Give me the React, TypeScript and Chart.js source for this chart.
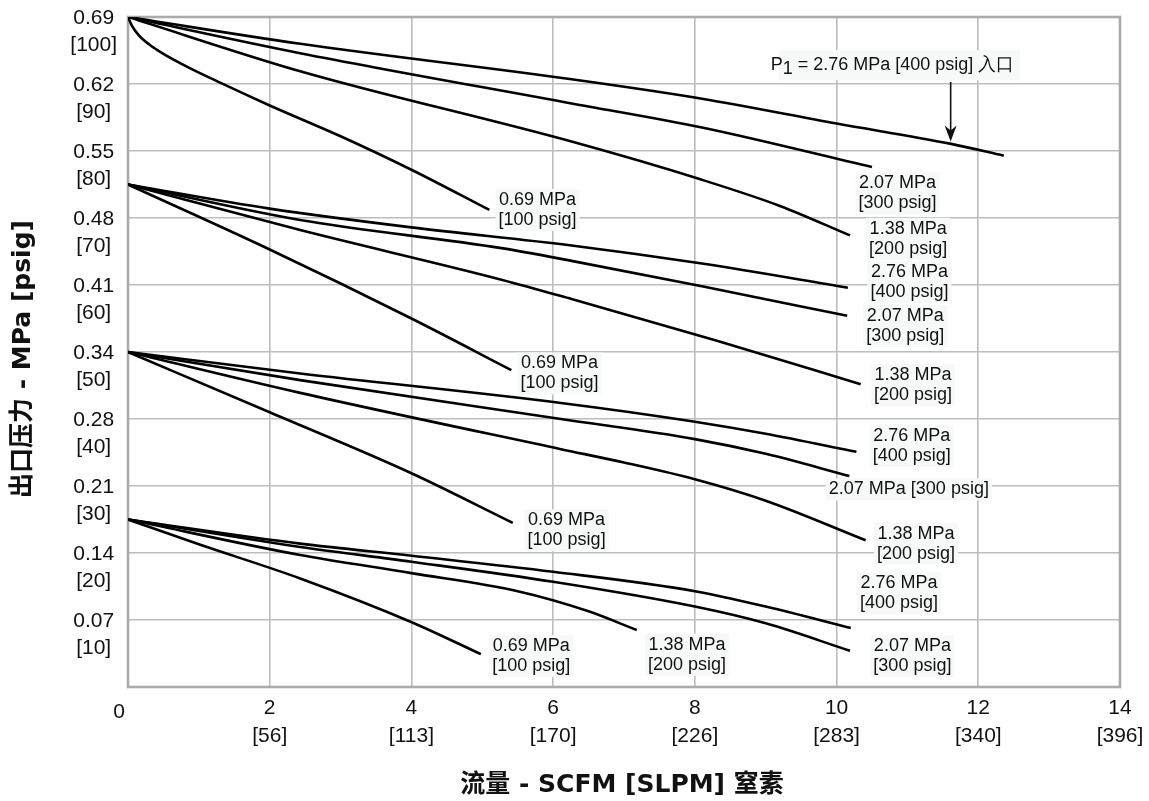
import React, { useEffect, useRef } from "react";
import { Chart, registerables } from "chart.js";

Chart.register(...registerables);

// ---- axis ticks ----
const xTicksSCFM = [0, 2, 4, 6, 8, 10, 12, 14];
const xTicksSLPM = ["", "[56]", "[113]", "[170]", "[226]", "[283]", "[340]", "[396]"];
const yTicksPsig = [0, 10, 20, 30, 40, 50, 60, 70, 80, 90, 100];
const yTicksMPa = ["", "0.07", "0.14", "0.21", "0.28", "0.34", "0.41", "0.48", "0.55", "0.62", "0.69"];

// ---- curves: flow (SCFM) vs outlet pressure (psig) ----
// outlet set 100 psig
const g100_in400_x = [0, 2.43, 6.26, 8.1, 10, 11.6, 12.36];
const g100_in400_y = [100, 96.0, 90.7, 87.8, 84.1, 81.1, 79.3];
const g100_in300_x = [0, 2.43, 6.26, 8.1, 10.5];
const g100_in300_y = [100, 94.6, 87.1, 83.5, 77.6];
const g100_in200_x = [0, 2.43, 6.26, 8.1, 9.2, 10.19];
const g100_in200_y = [100, 91.9, 81.4, 75.7, 71.8, 67.4];
const g100_in100_x = [0, 0.05, 0.15, 0.3, 0.5, 0.83, 1.3, 2.0, 3.0, 4.0, 5.1];
const g100_in100_y = [100, 98.8, 97.3, 95.9, 94.5, 92.6, 90.2, 86.8, 82.2, 77.2, 71.2];
// outlet set 75 psig
const g75_in400_x = [0, 2, 4, 6.26, 8.1, 10.16];
const g75_in400_y = [75, 71.4, 68.6, 65.9, 63.2, 59.6];
const g75_in300_x = [0, 2.43, 5.27, 6.26, 8.1, 10.15];
const g75_in300_y = [75, 69.7, 65.5, 63.6, 59.8, 55.4];
const g75_in200_x = [0, 2.43, 5.27, 6.26, 8.3, 10.34];
const g75_in200_y = [75, 68.2, 60.8, 57.9, 51.7, 45.2];
const g75_in100_x = [0, 2, 4, 5.41];
const g75_in100_y = [75, 65.3, 55.0, 47.3];
// outlet set 50 psig
const g50_in400_x = [0, 2.43, 6.11, 8, 9, 10.28];
const g50_in400_y = [50, 46.8, 42.4, 39.6, 37.8, 35.1];
const g50_in300_x = [0, 2.43, 6.11, 8, 9, 10.18];
const g50_in300_y = [50, 45.8, 40.0, 37.0, 34.8, 31.5];
const g50_in200_x = [0, 2.43, 6.11, 7, 8, 9, 10.41];
const g50_in200_y = [50, 43.9, 35.5, 33.5, 31.0, 27.8, 21.9];
const g50_in100_x = [0, 2, 4, 5.43];
const g50_in100_y = [50, 41.0, 31.9, 24.5];
// outlet set 25 psig
const g25_in400_x = [0, 2.43, 4, 6, 8, 9, 10.2];
const g25_in400_y = [25, 21.4, 19.6, 17.2, 14.3, 12.0, 8.8];
const g25_in300_x = [0, 2.43, 4, 6, 8, 9, 10.19];
const g25_in300_y = [25, 20.9, 18.7, 15.7, 12.0, 9.5, 5.4];
const g25_in200_x = [0, 2.43, 4, 5.5, 6.5, 7.18];
const g25_in200_y = [25, 19.7, 17.0, 14.3, 11.3, 8.5];
const g25_in100_x = [0, 1, 2.43, 4.02, 4.98];
const g25_in100_y = [25, 21.3, 16.2, 9.6, 4.9];

const seriesX = [
  g100_in400_x, g100_in300_x, g100_in200_x, g100_in100_x,
  g75_in400_x, g75_in300_x, g75_in200_x, g75_in100_x,
  g50_in400_x, g50_in300_x, g50_in200_x, g50_in100_x,
  g25_in400_x, g25_in300_x, g25_in200_x, g25_in100_x,
];
const seriesY = [
  g100_in400_y, g100_in300_y, g100_in200_y, g100_in100_y,
  g75_in400_y, g75_in300_y, g75_in200_y, g75_in100_y,
  g50_in400_y, g50_in300_y, g50_in200_y, g50_in100_y,
  g25_in400_y, g25_in300_y, g25_in200_y, g25_in100_y,
];

// ---- curve labels (text) ----
const labelLines = [
  ["2.07 MPa", "[300 psig]"],
  ["1.38 MPa", "[200 psig]"],
  ["0.69 MPa", "[100 psig]"],
  ["2.76 MPa", "[400 psig]"],
  ["2.07 MPa", "[300 psig]"],
  ["1.38 MPa", "[200 psig]"],
  ["0.69 MPa", "[100 psig]"],
  ["2.76 MPa", "[400 psig]"],
  ["2.07 MPa [300 psig]"],
  ["1.38 MPa", "[200 psig]"],
  ["0.69 MPa", "[100 psig]"],
  ["2.76 MPa", "[400 psig]"],
  ["2.07 MPa", "[300 psig]"],
  ["1.38 MPa", "[200 psig]"],
  ["0.69 MPa", "[100 psig]"],
];
// anchor (in axis units) of each label block centre
const labelAnchorX = [10.86, 11.01, 5.78, 11.03, 10.97, 11.08, 6.09, 11.06, 11.02, 11.12, 6.19, 10.88, 11.07, 7.89, 5.69];
const labelAnchorY = [73.7, 66.9, 71.2, 60.4, 53.9, 45.1, 46.8, 36.0, 29.5, 21.4, 23.4, 14.0, 4.6, 4.8, 4.6];

const inletTitleMain = "P";
const inletTitleSub = "1";
const inletTitleRest = " = 2.76 MPa [400 psig] 入口";
const inletTitleAnchor = [10.79, 92.8];
const inletArrowX = 11.61;
const inletArrowFrom = 90.3;
const inletArrowTo = 81.4;

const xTitle = "流量 - SCFM [SLPM] 窒素";
const yTitle = "出口压力 - MPa [psig]";

const TEXT_FONT = '"Liberation Sans", Arial, sans-serif';
const TITLE_FONT = '"DejaVu Sans", "Noto Sans CJK SC", sans-serif';

const overlayPlugin = {
  id: "overlay",
  beforeDatasetsDraw(chart: any) {
    const { ctx, chartArea } = chart;
    ctx.save();
    ctx.strokeStyle = "#ababab";
    ctx.lineWidth = 2.6;
    ctx.strokeRect(chartArea.left, chartArea.top, chartArea.right - chartArea.left, chartArea.bottom - chartArea.top);
    ctx.restore();
  },
  afterDatasetsDraw(chart: any) {
    const { ctx } = chart;
    const xs = chart.scales.x;
    const ys = chart.scales.y;
    ctx.save();
    ctx.font = `18px ${TEXT_FONT}`;
    ctx.textBaseline = "middle";
    ctx.textAlign = "center";
    const gap = 20;
    labelLines.forEach((lines, i) => {
      const cx = xs.getPixelForValue(labelAnchorX[i]);
      const cy = ys.getPixelForValue(labelAnchorY[i]);
      const w = Math.max(...lines.map((l) => ctx.measureText(l).width));
      const h = lines.length * gap;
      ctx.fillStyle = "#f7f9f9";
      ctx.fillRect(cx - w / 2 - 3, cy - h / 2 - 1, w + 6, h + 2);
      ctx.fillStyle = "#111";
      lines.forEach((l, j) => {
        ctx.fillText(l, cx, cy - h / 2 + gap / 2 + j * gap);
      });
    });

    // inlet title with subscript
    const tcx = xs.getPixelForValue(inletTitleAnchor[0]);
    const tcy = ys.getPixelForValue(inletTitleAnchor[1]);
    const wP = ctx.measureText(inletTitleMain).width;
    const wS = ctx.measureText(inletTitleSub).width;
    const wR = ctx.measureText(inletTitleRest).width;
    const total = wP + wS + wR;
    let sx = tcx - total / 2;
    ctx.fillStyle = "#f7f9f9";
    ctx.fillRect(sx + 8, tcy - 15, total - 2, 30);
    ctx.fillStyle = "#111";
    ctx.textAlign = "left";
    ctx.fillText(inletTitleMain, sx, tcy);
    ctx.fillText(inletTitleSub, sx + wP, tcy + 4);
    ctx.fillText(inletTitleRest, sx + wP + wS, tcy);

    // arrow
    const ax = xs.getPixelForValue(inletArrowX);
    const ay0 = ys.getPixelForValue(inletArrowFrom);
    const ay1 = ys.getPixelForValue(inletArrowTo);
    ctx.strokeStyle = "#111";
    ctx.lineWidth = 1.6;
    ctx.beginPath();
    ctx.moveTo(ax, ay0);
    ctx.lineTo(ax, ay1 - 6);
    ctx.stroke();
    ctx.fillStyle = "#111";
    ctx.beginPath();
    ctx.moveTo(ax, ay1);
    ctx.lineTo(ax - 6, ay1 - 16);
    ctx.lineTo(ax, ay1 - 11);
    ctx.lineTo(ax + 6, ay1 - 16);
    ctx.closePath();
    ctx.fill();
    ctx.restore();
  },
  afterDraw(chart: any) {
    const { ctx, chartArea } = chart;
    const xs = chart.scales.x;
    ctx.save();
    ctx.fillStyle = "#111";
    // origin label
    ctx.font = `21px ${TEXT_FONT}`;
    ctx.textAlign = "center";
    ctx.textBaseline = "middle";
    ctx.fillText(String(xTicksSCFM[0]), xs.getPixelForValue(xTicksSCFM[0]) - 9, chartArea.bottom + 25);
    // axis titles
    ctx.font = `bold 25px ${TITLE_FONT}`;
    ctx.fillText(xTitle, (chartArea.left + chartArea.right) / 2 - 2, chartArea.bottom + 98);
    ctx.translate(23, (chartArea.top + chartArea.bottom) / 2 + 7);
    ctx.rotate(-Math.PI / 2);
    ctx.fillText(yTitle, 0, 0);
    ctx.restore();
  },
};

export default function App() {
  const canvasRef = useRef<HTMLCanvasElement | null>(null);

  useEffect(() => {
    if (!canvasRef.current) return;
    const datasets = seriesX.map((xsArr, i) => ({
      data: xsArr.map((x, j) => ({ x, y: seriesY[i][j] })),
      borderColor: "#000",
      borderWidth: 2.6,
      pointRadius: 0,
      fill: false,
      cubicInterpolationMode: "monotone" as const,
    }));

    const chart = new Chart(canvasRef.current, {
      type: "line",
      data: { datasets },
      plugins: [overlayPlugin],
      options: {
        animation: false,
        responsive: true,
        maintainAspectRatio: false,
        layout: { padding: { left: 0, right: 29, top: 17, bottom: 0 } },
        plugins: { legend: { display: false }, tooltip: { enabled: false } },
        scales: {
          x: {
            type: "linear",
            min: 0,
            max: 14,
            afterBuildTicks: (s: any) => {
              s.ticks = xTicksSCFM.map((v) => ({ value: v }));
            },
            afterFit: (s: any) => {
              s.height = 114;
              s.paddingLeft = 0;
              s.paddingRight = 0;
            },
            ticks: {
              autoSkip: false,
              maxRotation: 0,
              padding: 8,
              color: "#111",
              font: { family: TEXT_FONT, size: 21, lineHeight: 1.3 },
              callback: (v: any) => {
                const i = xTicksSCFM.indexOf(Number(v));
                if (i <= 0) return "";
                return [String(xTicksSCFM[i]), xTicksSLPM[i]];
              },
            },
            grid: { color: "#bdbdbd", lineWidth: 1.6, drawTicks: false },
            border: { display: false },
          },
          y: {
            type: "linear",
            min: 0,
            max: 100,
            afterBuildTicks: (s: any) => {
              s.ticks = yTicksPsig.map((v) => ({ value: v }));
            },
            afterFit: (s: any) => {
              s.width = 128;
              s.paddingTop = 0;
              s.paddingBottom = 0;
            },
            ticks: {
              autoSkip: false,
              padding: 11,
              crossAlign: "center",
              labelOffset: 15,
              color: "#111",
              font: { family: TEXT_FONT, size: 21, lineHeight: 1.3 },
              callback: (v: any) => {
                const i = yTicksPsig.indexOf(Number(v));
                if (i <= 0) return "";
                return [yTicksMPa[i], `[${yTicksPsig[i]}]`];
              },
            },
            grid: { color: "#bdbdbd", lineWidth: 1.6, drawTicks: false },
            border: { display: false },
          },
        },
      },
    });
    return () => chart.destroy();
  }, []);

  return (
    <div style={{ position: "fixed", left: 0, top: 0, width: 1149, height: 801, background: "#fff" }}>
      <canvas ref={canvasRef} />
    </div>
  );
}
